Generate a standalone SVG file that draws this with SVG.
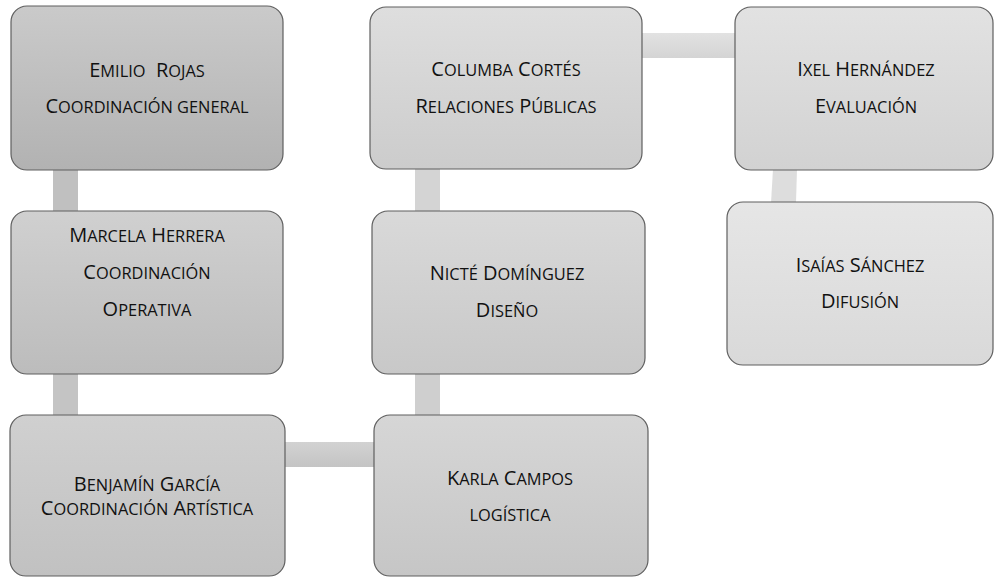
<svg xmlns="http://www.w3.org/2000/svg" width="994" height="577" viewBox="0 0 994 577">
<defs>
<style>
.box{stroke:#5f5f5f;stroke-width:1.2}
.lbl{font-family:"Open Sans","Lato","DejaVu Sans",sans-serif;font-size:20px;fill:#111;text-anchor:middle;white-space:pre}
.s{font-size:16.4px;text-transform:uppercase}
</style>
<linearGradient id="g1" x1="0" y1="0" x2="0" y2="1"><stop offset="0" stop-color="#cacaca"/><stop offset="1" stop-color="#b2b2b2"/></linearGradient>
<linearGradient id="g2" x1="0" y1="0" x2="0" y2="1"><stop offset="0" stop-color="#d0d0d0"/><stop offset="1" stop-color="#bcbcbc"/></linearGradient>
<linearGradient id="g3" x1="0" y1="0" x2="0" y2="1"><stop offset="0" stop-color="#d0d0d0"/><stop offset="1" stop-color="#c1c1c1"/></linearGradient>
<linearGradient id="g4" x1="0" y1="0" x2="0" y2="1"><stop offset="0" stop-color="#d6d6d6"/><stop offset="1" stop-color="#c6c6c6"/></linearGradient>
<linearGradient id="g5" x1="0" y1="0" x2="0" y2="1"><stop offset="0" stop-color="#d9d9d9"/><stop offset="1" stop-color="#c8c8c8"/></linearGradient>
<linearGradient id="g6" x1="0" y1="0" x2="0" y2="1"><stop offset="0" stop-color="#dedede"/><stop offset="1" stop-color="#cccccc"/></linearGradient>
<linearGradient id="g7" x1="0" y1="0" x2="0" y2="1"><stop offset="0" stop-color="#e2e2e2"/><stop offset="1" stop-color="#d2d2d2"/></linearGradient>
<linearGradient id="g8" x1="0" y1="0" x2="0" y2="1"><stop offset="0" stop-color="#e6e6e6"/><stop offset="1" stop-color="#d9d9d9"/></linearGradient>
<linearGradient id="gh1" x1="0" y1="0" x2="0" y2="1"><stop offset="0" stop-color="#d2d2d2"/><stop offset="1" stop-color="#c4c4c4"/></linearGradient>
<linearGradient id="gh2" x1="0" y1="0" x2="0" y2="1"><stop offset="0" stop-color="#e2e2e2"/><stop offset="1" stop-color="#d4d4d4"/></linearGradient>
</defs>

<g id="connectors">
<rect x="53" y="169" width="25" height="43" fill="#c0c0c0"/>
<rect x="53" y="373" width="25" height="43" fill="#c4c4c4"/>
<rect x="284" y="442" width="91" height="25" fill="url(#gh1)"/>
<rect x="415" y="373" width="25" height="43" fill="#cfcfcf"/>
<rect x="415" y="168" width="25" height="44" fill="#d4d4d4"/>
<rect x="641" y="33" width="95" height="25" fill="url(#gh2)"/>
<polygon points="773,169 797,169 796,203 771,203" fill="#dddddd"/>
</g>

<g id="n-emilio">
<rect class="box" x="11" y="6" width="272" height="164" rx="16" fill="url(#g1)"/>
<text class="lbl" x="147" y="77">E<tspan class="s">milio</tspan>  R<tspan class="s">ojas</tspan></text>
<text class="lbl" x="147" y="113">C<tspan class="s">oordinación general</tspan></text>
</g>
<g id="n-marcela">
<rect class="box" x="11" y="211" width="272" height="163" rx="16" fill="url(#g2)"/>
<text class="lbl" x="147" y="242">M<tspan class="s">arcela</tspan> H<tspan class="s">errera</tspan></text>
<text class="lbl" x="147" y="279">C<tspan class="s">oordinación</tspan></text>
<text class="lbl" x="147" y="316">O<tspan class="s">perativa</tspan></text>
</g>
<g id="n-benjamin">
<rect class="box" x="10" y="415" width="275" height="161" rx="16" fill="url(#g3)"/>
<text class="lbl" x="147" y="491">B<tspan class="s">enjamín</tspan> G<tspan class="s">arcía</tspan></text>
<text class="lbl" x="147" y="515">C<tspan class="s">oordinación</tspan> A<tspan class="s">rtística</tspan></text>
</g>
<g id="n-karla">
<rect class="box" x="374" y="415" width="274" height="161" rx="16" fill="url(#g4)"/>
<text class="lbl" x="510" y="485">K<tspan class="s">arla</tspan> C<tspan class="s">ampos</tspan></text>
<text class="lbl" x="510" y="521"><tspan class="s">logística</tspan></text>
</g>
<g id="n-nicte">
<rect class="box" x="372" y="211" width="273" height="163" rx="16" fill="url(#g5)"/>
<text class="lbl" x="507" y="280">N<tspan class="s">icté</tspan> D<tspan class="s">omínguez</tspan></text>
<text class="lbl" x="507" y="317">D<tspan class="s">iseño</tspan></text>
</g>
<g id="n-columba">
<rect class="box" x="370" y="7" width="272" height="162" rx="16" fill="url(#g6)"/>
<text class="lbl" x="506" y="76">C<tspan class="s">olumba</tspan> C<tspan class="s">ortés</tspan></text>
<text class="lbl" x="506" y="113">R<tspan class="s">elaciones</tspan> P<tspan class="s">úblicas</tspan></text>
</g>
<g id="n-ixel">
<rect class="box" x="735" y="7" width="258" height="163" rx="16" fill="url(#g7)"/>
<text class="lbl" x="866" y="76">I<tspan class="s">xel</tspan> H<tspan class="s">ernández</tspan></text>
<text class="lbl" x="866" y="113">E<tspan class="s">valuación</tspan></text>
</g>
<g id="n-isaias">
<rect class="box" x="727" y="202" width="266" height="163" rx="16" fill="url(#g8)"/>
<text class="lbl" x="860" y="272">I<tspan class="s">saías</tspan> S<tspan class="s">ánchez</tspan></text>
<text class="lbl" x="860" y="308">D<tspan class="s">ifusión</tspan></text>
</g>
</svg>
